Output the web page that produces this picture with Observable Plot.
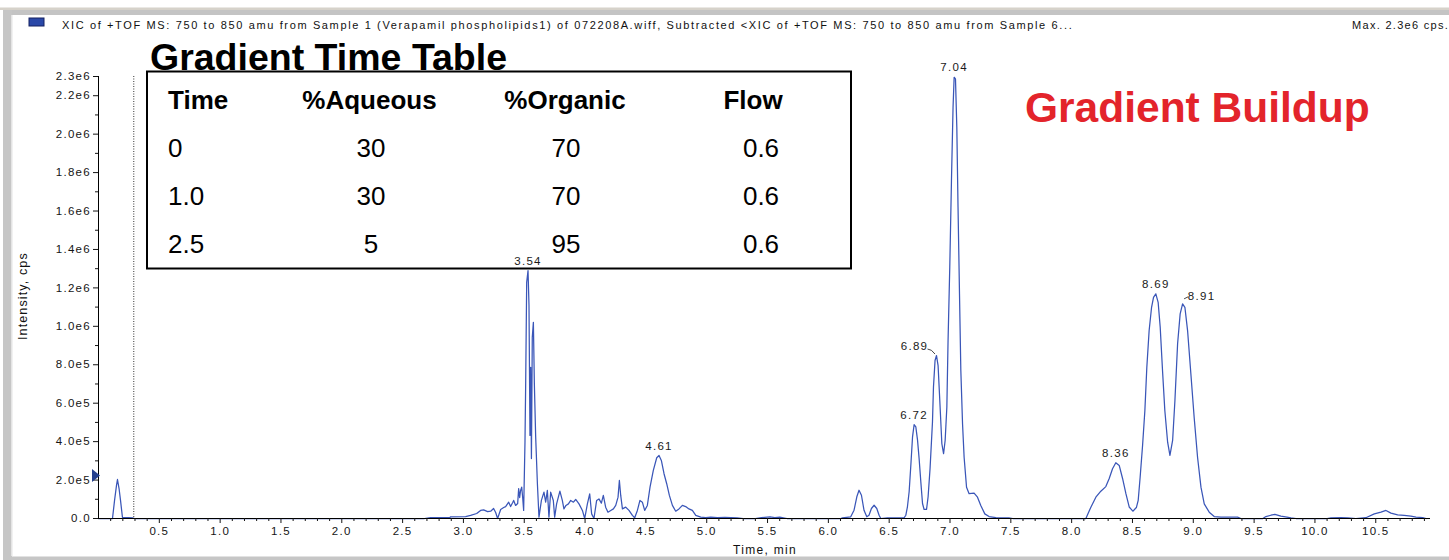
<!DOCTYPE html>
<html><head><meta charset="utf-8">
<script src="https://cdn.jsdelivr.net/npm/d3@7"></script>
<script src="https://cdn.jsdelivr.net/npm/@observablehq/plot@0.6"></script>
<style>
html,body{margin:0;padding:0;background:#fff;}
#chart svg text{letter-spacing:1.3px;}
#chart svg text.big{letter-spacing:0;}
</style></head><body><div id="chart"></div>
<script>
// ---- data (time in min, intensity in 1e6 cps) ----
const traceTimes = [0.000,0.115,0.132,0.148,0.156,0.169,0.181,0.197,0.247,0.280,0.296,2.680,2.730,2.887,2.895,3.018,3.059,3.109,3.141,3.166,3.199,3.224,3.248,3.265,3.281,3.306,3.331,3.347,3.372,3.388,3.405,3.413,3.429,3.446,3.454,3.462,3.470,3.479,3.487,3.495,3.506,3.512,3.520,3.531,3.539,3.547,3.553,3.559,3.566,3.575,3.583,3.594,3.608,3.621,3.641,3.662,3.676,3.690,3.703,3.717,3.739,3.750,3.766,3.793,3.813,3.826,3.843,3.863,3.882,3.904,3.923,3.950,3.978,3.997,4.019,4.038,4.054,4.073,4.095,4.114,4.134,4.150,4.169,4.188,4.211,4.233,4.252,4.271,4.282,4.293,4.307,4.334,4.361,4.389,4.408,4.430,4.451,4.471,4.490,4.512,4.534,4.561,4.589,4.608,4.627,4.649,4.671,4.693,4.718,4.745,4.772,4.800,4.827,4.854,4.882,4.910,4.951,4.992,5.033,5.088,5.150,5.250,5.300,5.400,5.450,5.520,5.560,5.600,5.660,6.102,6.116,6.184,6.211,6.234,6.252,6.272,6.293,6.316,6.334,6.354,6.376,6.398,6.417,6.431,6.486,6.622,6.637,6.650,6.664,6.678,6.692,6.705,6.719,6.733,6.746,6.760,6.774,6.787,6.807,6.820,6.836,6.856,6.864,6.877,6.889,6.902,6.916,6.933,6.947,6.960,6.974,6.984,6.998,7.012,7.025,7.034,7.045,7.056,7.066,7.078,7.089,7.103,7.116,7.136,7.157,7.198,7.226,7.253,7.286,7.321,7.377,7.484,7.516,8.117,8.158,8.199,8.240,8.281,8.308,8.336,8.363,8.391,8.419,8.446,8.473,8.503,8.532,8.547,8.563,8.583,8.602,8.618,8.637,8.657,8.673,8.692,8.711,8.728,8.747,8.766,8.789,8.808,8.830,8.849,8.871,8.892,8.912,8.931,8.953,8.980,9.007,9.035,9.063,9.090,9.131,9.172,9.227,9.364,9.391,9.572,9.597,9.638,9.671,9.720,9.770,9.803,9.844,10.100,10.132,10.214,10.271,10.337,10.419,10.488,10.543,10.584,10.625,10.680,10.734,10.789,10.831,10.886,10.913];
const traceIntensityE6 = [0,0,0.094,0.172,0.203,0.156,0.094,0.005,0.004,0.003,0,0,0.004,0.004,0.009,0.010,0.016,0.026,0.042,0.045,0.036,0.038,0.052,0.031,0,0.047,0.057,0.062,0.085,0.062,0.083,0.094,0.068,0.078,0.156,0.109,0.146,0.163,0.109,0.042,0.397,0.718,1.229,1.290,1.108,0.432,0.787,0.312,0.943,1.021,0.702,0.423,0.182,0.007,0.094,0.137,0.085,0.146,0.007,0.137,0.094,0.007,0.076,0.142,0.094,0.050,0.068,0.076,0.094,0.085,0.099,0.076,0.042,0,0.076,0.128,0.024,0,0.094,0.102,0.080,0.120,0.059,0.033,0.042,0.050,0.068,0.111,0.198,0.120,0.050,0.059,0.042,0.016,0.004,0.042,0.094,0.085,0.042,0.068,0.163,0.250,0.316,0.328,0.302,0.233,0.181,0.120,0.068,0.038,0.050,0.068,0.062,0.050,0.042,0.016,0.007,0.004,0.007,0.004,0.006,0.003,0,0,0.004,0.008,0.005,0.007,0,0,0.003,0.009,0.043,0.113,0.147,0.121,0.043,0.009,0.017,0.052,0.069,0.052,0.017,0,0.003,0.003,0.017,0.061,0.139,0.277,0.425,0.489,0.477,0.408,0.312,0.191,0.078,0.047,0.047,0.113,0.260,0.503,0.683,0.822,0.848,0.796,0.614,0.389,0.337,0.406,0.579,0.926,1.307,1.759,2.140,2.296,2.288,2.036,1.620,1.169,0.770,0.493,0.319,0.163,0.129,0.132,0.111,0.068,0.024,0.010,0.005,0.003,0,0,0.059,0.111,0.142,0.166,0.207,0.259,0.290,0.276,0.207,0.129,0.060,0.038,0.057,0.094,0.215,0.380,0.562,0.787,0.978,1.099,1.151,1.169,1.125,0.995,0.770,0.562,0.397,0.328,0.406,0.614,0.909,1.065,1.117,1.099,0.978,0.753,0.527,0.319,0.163,0.076,0.033,0.010,0.007,0.007,0,0,0.010,0.017,0.021,0.012,0.007,0.003,0,0,0.003,0.005,0.003,0,0.004,0.024,0.033,0.042,0.028,0.019,0.016,0.012,0.007,0.004,0];

const peakTimes = [3.531, 4.608, 6.705, 6.889, 7.034, 8.363, 8.692, 8.912];
const peakIntensityE6 = [1.290, 0.328, 0.489, 0.848, 2.296, 0.290, 1.169, 1.117];
const peakLabels = ["3.54", "4.61", "6.72", "6.89", "7.04", "8.36", "8.69", "8.91"];

const gradientStartMin = [0.29];          // dotted vertical marker
const markerIntensityE6 = [0.224];         // blue triangle on the y axis

const xMajorTicks = [0.5,1.0,1.5,2.0,2.5,3.0,3.5,4.0,4.5,5.0,5.5,6.0,6.5,7.0,7.5,8.0,8.5,9.0,9.5,10.0,10.5];
const yTickValues = [0,2e5,4e5,6e5,8e5,1e6,1.2e6,1.4e6,1.6e6,1.8e6,2.0e6,2.2e6,2.3e6];
const yMinorTicks = [1e5,3e5,5e5,7e5,9e5,1.1e6,1.3e6,1.5e6,1.7e6,1.9e6,2.1e6];

const headerText = "XIC of +TOF MS: 750 to 850 amu from Sample 1 (Verapamil phospholipids1) of 072208A.wiff, Subtracted <XIC of +TOF MS: 750 to 850 amu from Sample 6...";
const maxText = "Max. 2.3e6 cps.";
const yLabel = "Intensity, cps";
const xLabel = "Time, min";
const tableTitle = "Gradient Time Table";
const sideTitle = "Gradient Buildup";
const tableHeaders = ["Time", "%Aqueous", "%Organic", "Flow"];
const tableRows = [["0","30","70","0.6"],["1.0","30","70","0.6"],["2.5","5","95","0.6"]];

// ---- build ----
const trace = traceTimes.map((t,i)=>({t, v: traceIntensityE6[i]*1e6}));
const peaks = peakTimes.map((t,i)=>({t, v: peakIntensityE6[i]*1e6, label: peakLabels[i]}));
const xMinorTicks = d3.range(1,110).filter(i=>i%5!==0).map(i=>i/10);
const fmtY = d => d===0 ? "0.0" : d3.format(".1e")(d).replace("+","");
const lineBlue = "#3a56b8";
const tri = {draw(ctx){ctx.moveTo(-4,-6.5);ctx.lineTo(4,0);ctx.lineTo(-4,6.5);ctx.closePath();}};

const plot = Plot.plot({
  width:1449, height:560, marginLeft:98, marginRight:19, marginTop:76, marginBottom:42,
  style:{fontFamily:"'Liberation Sans', Arial, sans-serif", fontSize:"11.5px", color:"#151515", background:"#fff", overflow:"visible"},
  x:{domain:[0,10.95]},
  y:{domain:[0,2.3e6]},
  marks:[
    Plot.ruleX(gradientStartMin,{stroke:"#333", strokeWidth:1, strokeDasharray:"1,1.5"}),
    Plot.line(trace,{x:"t", y:"v", stroke:lineBlue, strokeWidth:1.25}),
    Plot.ruleY([0],{stroke:"#000", strokeWidth:1}),
    Plot.ruleX([0],{stroke:"#000", strokeWidth:1}),
    Plot.axisX({ticks:xMajorTicks, tickSize:5, tickPadding:3, tickFormat:d=>d.toFixed(1), label:null}),
    Plot.axisX({ticks:xMinorTicks, tickSize:3, tickFormat:()=>"", label:null}),
    Plot.axisY({ticks:yTickValues, tickSize:5, tickPadding:2.5, tickFormat:fmtY, label:null}),
    Plot.axisY({ticks:yMinorTicks, tickSize:3, tickFormat:()=>"", label:null}),
    Plot.text(peaks.filter(d=>d.label!=="6.89" && d.label!=="8.91"),{x:"t", y:"v", text:"label", dy:-9.5, fontSize:11.5, fill:"#1a1a1a"}),
    Plot.text(peaks.filter(d=>d.label==="6.89"),{x:"t", y:"v", text:"label", dx:-22, dy:-9, fontSize:11.5, fill:"#1a1a1a"}),
    Plot.text(peaks.filter(d=>d.label==="8.91"),{x:"t", y:"v", text:"label", dx:19, dy:-8, fontSize:11.5, fill:"#1a1a1a"}),
    Plot.dot(markerIntensityE6,{x:()=>0, y:d=>d*1e6, symbol:tri, r:5, fill:"#25408f", stroke:"none", dx:-2.5})
  ]
});
document.getElementById("chart").appendChild(plot);

const svg = d3.select(plot);
const xs = plot.scale("x"), ys = plot.scale("y");
const big = "'Liberation Sans', Arial, sans-serif";

// table (inserted beneath the chart marks so the peak label stays visible)
const tbl = svg.insert("g", "g").attr("text-anchor","start");
tbl.append("text").attr("class","big").attr("x",150).attr("y",70).attr("font-family",big).attr("font-weight","bold")
  .attr("font-size",37.5).attr("fill","#000").text(tableTitle);
tbl.append("rect").attr("x",147).attr("y",71.5).attr("width",704).attr("height",197).attr("fill","#fff").attr("stroke","#000").attr("stroke-width",2);
const headX = [168, 369.5, 565, 753], headAnchor = ["start","middle","middle","middle"];
const valX = [168, 371, 566, 761];
tableHeaders.forEach((h,i)=>{
  tbl.append("text").attr("class","big").attr("x",headX[i]).attr("y",109.3).attr("text-anchor",headAnchor[i])
    .attr("font-family",big).attr("font-weight","bold").attr("font-size",26).attr("fill","#000").text(h);
});
const rowY = [157.3, 205.3, 253.3];
tableRows.forEach((r,j)=>{
  r.forEach((c,i)=>{
    tbl.append("text").attr("class","big").attr("x",valX[i]).attr("y",rowY[j]).attr("text-anchor",headAnchor[i])
      .attr("font-family",big).attr("font-size",26).attr("fill","#000").text(c);
  });
});

// leader lines for offset labels
const p689 = peaks.find(d=>d.label==="6.89"), p891 = peaks.find(d=>d.label==="8.91");
svg.append("path").attr("fill","none").attr("stroke","#333").attr("stroke-width",0.9)
  .attr("d",`M${xs.apply(p689.t)-8.5},${ys.apply(p689.v)-6} q4,0 7.5,5`);
svg.append("path").attr("fill","none").attr("stroke","#333").attr("stroke-width",0.9)
  .attr("d",`M${xs.apply(p891.t)+2},${ys.apply(p891.v)-4.5} l4,-2`);

// window frame
const frame = svg.append("g");
frame.append("rect").attr("x",0).attr("y",7.5).attr("width",1449).attr("height",2.5).attr("fill","#d6d2ca");
frame.append("rect").attr("x",3).attr("y",10).attr("width",1446).attr("height",5).attr("fill","#c4c4c4");
frame.append("rect").attr("x",3).attr("y",10).attr("width",9).attr("height",550).attr("fill","#c6c6c6");
frame.append("rect").attr("x",11).attr("y",15).attr("width",1.5).attr("height",541).attr("fill","#e4e4e4");
frame.append("rect").attr("x",3).attr("y",556.5).attr("width",1446).attr("height",3.5).attr("fill","#c6c6c6");

// header
const hdr = svg.append("g").attr("text-anchor","start");
hdr.append("rect").attr("x",29).attr("y",18).attr("width",15).attr("height",8).attr("fill","#2a48a8").attr("stroke","#142060").attr("stroke-width",1);
hdr.append("text").attr("x",62).attr("y",29).attr("font-size",11).attr("fill","#111")
  .attr("textLength",1011).attr("lengthAdjust","spacing").text(headerText);
hdr.append("text").attr("x",1352).attr("y",29).attr("font-size",11).attr("fill","#111").text(maxText);

// axis titles
svg.append("text").attr("transform","translate(26.5,296) rotate(-90)").attr("text-anchor","middle")
  .attr("font-size",12.5).attr("fill","#111").attr("textLength",88).attr("lengthAdjust","spacing").text(yLabel);
svg.append("text").attr("x",765).attr("y",553.5).attr("text-anchor","middle")
  .attr("font-size",12).attr("fill","#111").attr("textLength",64).attr("lengthAdjust","spacing").text(xLabel);

// side title
svg.append("text").attr("class","big").attr("x",1025).attr("y",122).attr("text-anchor","start").attr("font-family",big).attr("font-weight","bold")
  .attr("font-size",42.5).attr("fill","#e3242b").text(sideTitle);
</script>
</body></html>
